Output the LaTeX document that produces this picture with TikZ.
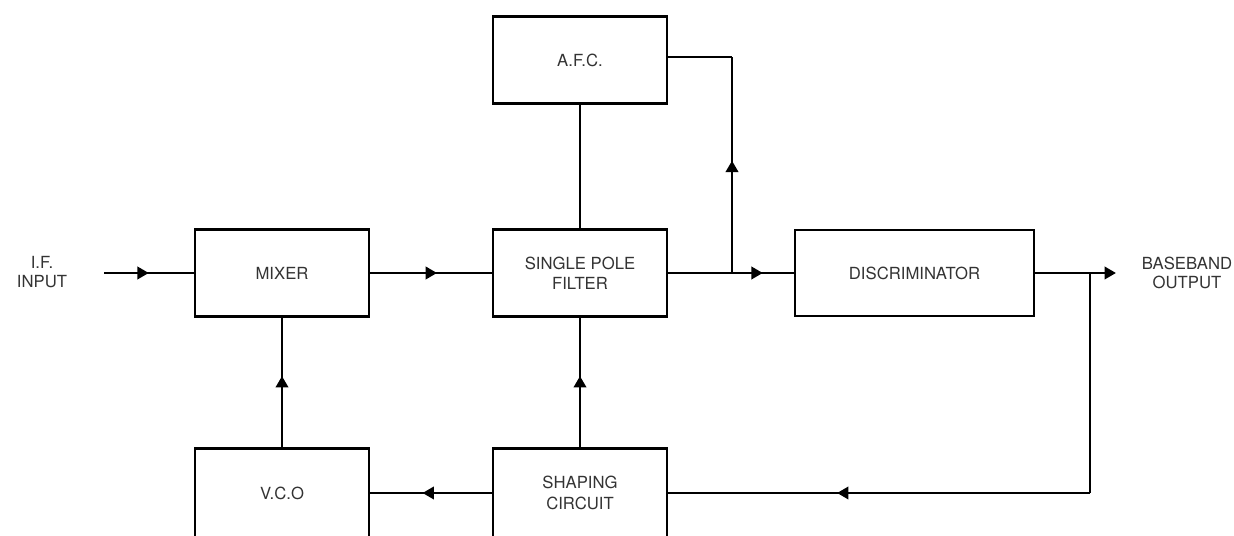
\documentclass[tikz,border=0pt]{standalone}
\usepackage{fontspec}
\setmainfont{TeX Gyre Heros}
\usetikzlibrary{arrows.meta,decorations.markings}

\tikzset{
  bloque/.style={draw, line width=1.6pt, minimum width=3.48cm, minimum height=1.74cm,
    align=center, text=black!80, font=\fontsize{9.5}{11.5}\selectfont},
  etiqueta/.style={align=center, text=black!80, font=\fontsize{9.5}{11}\selectfont},
  linea/.style={line width=1.6pt},
  flecha/.style={linea, postaction={decorate}, decoration={markings,
    mark=at position #1 with {\arrow{Triangle[length=6.5pt,width=7pt]}}}},
  flecha/.default=0.55
}

\begin{document}
\begin{tikzpicture}
    \useasboundingbox (0,0) rectangle (24.68,10.72);
    \clip (0,0) rectangle (24.68,10.72);

    % Bloques
    \node[bloque] (afc) at (11.6,9.52) {A.F.C.};
    \node[bloque] (filtro) at (11.6,5.26) {SINGLE POLE\\FILTER};
    \node[bloque] (mezclador) at (5.64,5.26) {MIXER};
    \node[bloque, minimum width=4.78cm, minimum height=1.72cm] (discriminador) at (18.29,5.26) {DISCRIMINATOR};
    \node[bloque, minimum height=1.78cm] (vco) at (5.64,0.86) {V.C.O};
    \node[bloque, minimum height=1.78cm] (conformador) at (11.6,0.86) {SHAPING\\CIRCUIT};

    % Entrada y salida
    \node[etiqueta] (entrada) at (0.84,5.28) {I.F.\\INPUT};
    \node[etiqueta] (salida) at (23.74,5.26) {BASEBAND\\OUTPUT};
    \coordinate (ini) at (2.08,5.26);
    \coordinate (fin) at (22.32,5.26);

    % Puntos de derivacion
    \coordinate (deriv1) at (14.64,5.26);
    \coordinate (deriv2) at (21.8,5.26);
    \coordinate (esquina) at (21.8,0.86);
    \coordinate (afcder) at (14.64,9.58);

    % Camino principal
    \draw[flecha=0.5] (ini) -- (mezclador.west);
    \draw[flecha=0.55] (mezclador.east) -- (filtro.west);
    \draw[linea] (filtro.east) -- (deriv1);
    \draw[flecha=0.5] (deriv1) -- (discriminador.west);
    \draw[linea, -{Triangle[length=6.5pt,width=7pt]}] (discriminador.east) -- (fin);

    % Lazo del A.F.C.
    \draw[flecha=0.52] (deriv1) -- (afcder);
    \draw[linea] (afcder) -- (afc.east |- afcder);
    \draw[linea] (afc.south) -- (filtro.north);

    % Realimentacion
    \draw[linea] (deriv2) -- (esquina);
    \draw[flecha=0.6] (esquina) -- (conformador.east);
    \draw[flecha=0.57] (conformador.west) -- (vco.east);
    \draw[flecha=0.55] (conformador.north) -- (filtro.south);
    \draw[flecha=0.55] (vco.north) -- (mezclador.south);
\end{tikzpicture}
\end{document}
